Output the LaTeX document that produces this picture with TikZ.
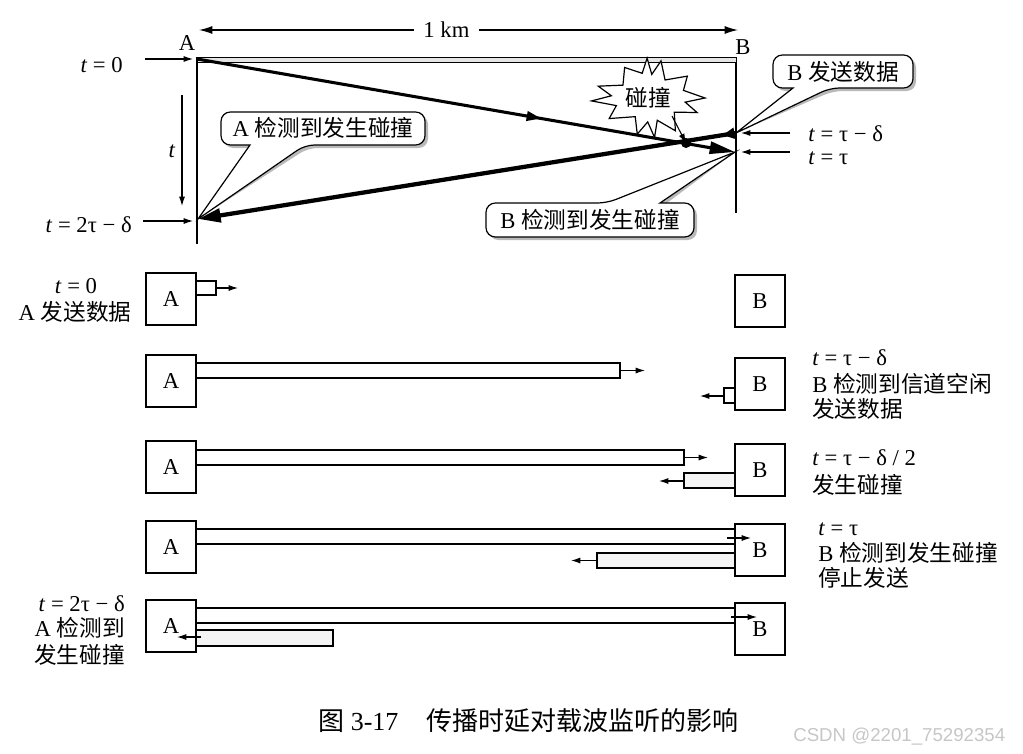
\documentclass[tikz,border=0pt]{standalone}
\usepackage{fontspec}
\setmainfont{Liberation Serif}
\newfontfamily\cjk{Noto Sans CJK SC}
\newfontfamily\wmfont{Liberation Sans}
\usetikzlibrary{arrows.meta,decorations.markings}
\begin{document}
\begin{tikzpicture}[x=0.75pt,y=-0.75pt,
  lbl/.style={font=\fontsize{17}{20}\selectfont, inner sep=0pt},
  captxt/.style={font=\fontsize{19.5}{22}\selectfont, inner sep=0pt},
  sta/.style={draw, line width=1pt, minimum width=37.5pt, minimum height=39pt, inner sep=0pt, fill=white, font=\fontsize{17}{20}\selectfont},
  bar/.style={draw, line width=0.8pt, fill=white},
  gbar/.style={draw, line width=0.8pt, fill=gray!9},
  sarr/.style={-{Latex[length=7pt,width=4.5pt]}, line width=0.8pt},
  ln/.style={line width=0.9pt},
  shade/.style={fill=gray!55},
  callout/.style={draw, line width=0.9pt, fill=white},
]
\useasboundingbox (0,0) rectangle (1023,753);

% ---------------- top diagram ----------------
\coordinate (pA0) at (197,59);
\coordinate (pBt) at (735,152);
\coordinate (pBd) at (736,133);
\coordinate (pA2) at (198,219);
\coordinate (coll) at (686,143);

\draw[ln] (197,57) -- (197,244);
\draw[ln] (736,60) -- (736,213);
\draw[line width=0.7pt, fill=gray!20] (197,57) rectangle (736,62);

\node[lbl, anchor=base] (labA) at (187,50) {A};
\node[lbl, anchor=base] (labB) at (743,54) {B};

% 1 km
\coordinate (kmL) at (199,30);
\coordinate (kmR) at (738,30);
\draw[ln, {Latex[length=10pt,width=6pt]}-{Latex[length=10pt,width=6pt]}] (kmL) -- (kmR)
  node[pos=0.459, fill=white, lbl, inner xsep=7pt, inner ysep=2pt] (km) {1 km};

% time marks left
\node[lbl, anchor=base east] (t0) at (123,72) {\textit{t} = 0};
\coordinate (t0s) at (145,59);
\coordinate (t0e) at (193,59);
\draw[sarr] (t0s) -- (t0e);
\node[lbl, anchor=base east] (t2) at (132,232) {\textit{t} = 2τ − δ};
\coordinate (t2s) at (143,221);
\coordinate (t2e) at (193,221);
\draw[sarr] (t2s) -- (t2e);
\coordinate (tvs) at (182,95);
\coordinate (tve) at (182,206);
\draw[sarr] (tvs) -- (tve);
\node[lbl, anchor=base] (tv) at (172,157) {\textit{t}};

% time marks right
\node[lbl, anchor=base west] (ttd) at (808,141) {\textit{t} = τ − δ};
\node[lbl, anchor=base west] (tt) at (808,164) {\textit{t} = τ};
\coordinate (tds) at (790,133);
\coordinate (tde) at (741,133);
\coordinate (tts) at (790,152);
\coordinate (tte) at (741,152);
\draw[sarr] (tds) -- (tde);
\draw[sarr] (tts) -- (tte);

% signal lines
\draw[line width=2.3pt, -{Triangle[length=19pt,width=9pt]},
  postaction={decorate}, decoration={markings, mark=at position 0.64 with {\arrow{Triangle[length=11pt,width=7pt]}}}]
  (pA0) -- (pBt);
\draw[line width=3.2pt, -{Triangle[length=17pt,width=10pt]},
  postaction={decorate}, decoration={markings, mark=at position 0.025 with {\arrow{Triangle[length=9pt,width=8pt]}}}]
  (pBd) -- (pA2);
\fill (coll) circle (5);

% collision star
\draw[fill=white, line width=0.9pt, shift={(649,98)}]
  (0:56 and 33) -- (12:37 and 20) -- (27:54 and 32) -- (40:33 and 22) -- (55:46 and 40)
  -- (68:22 and 24) -- (80:32 and 40) -- (95:15 and 24) -- (108:38 and 38) -- (122:26 and 22)
  -- (140:52 and 32) -- (155:36 and 18) -- (172:58 and 21) -- (188:38 and 16) -- (205:56 and 28)
  -- (220:34 and 20) -- (238:46 and 36) -- (252:22 and 26) -- (265:22 and 40) -- (280:16 and 24)
  -- (292:32 and 40) -- (305:28 and 22) -- (320:50 and 34) -- (335:38 and 18) -- cycle;
\node[lbl, anchor=base] (pz) at (648,106) {\cjk 碰撞};
\coordinate (pzs) at (672,116);
\draw[sarr] (pzs) -- (coll);

% callout: A detects
\fill[shade, shift={(3,3)}, rounded corners=7pt]
  (221,112) -- (425,112) -- (425,145) -- (305,145) [sharp corners] -- (pA2) -- (250,145) [rounded corners=7pt] -- (221,145) -- cycle;
\draw[callout, rounded corners=7pt]
  (221,112) -- (425,112) -- (425,145) -- (305,145) [sharp corners] -- (pA2) -- (250,145) [rounded corners=7pt] -- (221,145) -- cycle;
\node[lbl, anchor=base] (cA) at (323,136) {A {\cjk 检测到发生碰撞}};

% callout: B sends
\fill[shade, shift={(3,3)}, rounded corners=7pt]
  (773,55) -- (913,55) -- (913,88) -- (830,88) [sharp corners] -- (pBd) -- (793,88) [rounded corners=7pt] -- (773,88) -- cycle;
\draw[callout, rounded corners=7pt]
  (773,55) -- (913,55) -- (913,88) -- (830,88) [sharp corners] -- (pBd) -- (793,88) [rounded corners=7pt] -- (773,88) -- cycle;
\node[lbl, anchor=base] (cB) at (843,80) {B {\cjk 发送数据}};

% callout: B detects
\fill[shade, shift={(3,3)}, rounded corners=7pt]
  (486,203) -- (607,203) [sharp corners] -- (pBt) -- (660,203) [rounded corners=7pt] -- (694,203) -- (694,237) -- (486,237) -- cycle;
\draw[callout, rounded corners=7pt]
  (486,203) -- (607,203) [sharp corners] -- (pBt) -- (660,203) [rounded corners=7pt] -- (694,203) -- (694,237) -- (486,237) -- cycle;
\node[lbl, anchor=base] (cBd) at (590,228) {B {\cjk 检测到发生碰撞}};

% ---------------- bottom rows ----------------
% row 1
\node[sta] (A1) at (171,299) {A};
\node[sta] (B1) at (760,301) {B};
\draw[bar] (196,281) rectangle (216,295);
\draw[sarr] (216,288) -- (238,288);
\node[lbl, anchor=base] (l1a) at (76,293) {\textit{t} = 0};
\node[lbl, anchor=base] (l1b) at (75,320) {A {\cjk 发送数据}};

% row 2
\node[sta] (A2) at (171,381) {A};
\node[sta] (B2) at (760,384) {B};
\draw[bar] (196,363) rectangle (620,378);
\draw[sarr] (620,370.5) -- (645,370.5);
\draw[bar] (724,388) rectangle (735,403);
\draw[sarr] (724,396) -- (700,396);
\node[lbl, anchor=base west] (l2a) at (812,365) {\textit{t} = τ − δ};
\node[lbl, anchor=base west] (l2b) at (812,392) {B {\cjk 检测到信道空闲}};
\node[lbl, anchor=base west] (l2c) at (812,417) {\cjk 发送数据};

% row 3
\node[sta] (A3) at (171,467) {A};
\node[sta] (B3) at (760,470) {B};
\draw[bar] (196,450) rectangle (684,465);
\draw[sarr] (684,457.5) -- (708,457.5);
\draw[gbar] (684,473) rectangle (735,488);
\draw[sarr] (684,481) -- (659,481);
\node[lbl, anchor=base west] (l3a) at (812,465) {\textit{t} = τ − δ / 2};
\node[lbl, anchor=base west] (l3b) at (812,493) {\cjk 发生碰撞};

% row 4
\node[sta] (A4) at (171,547) {A};
\node[sta] (B4) at (760,550) {B};
\draw[bar] (196,529) rectangle (735,544);
\draw[sarr] (727,538) -- (751,538);
\draw[gbar] (597,553) rectangle (735,568);
\draw[sarr] (597,560.5) -- (571,560.5);
\node[lbl, anchor=base west] (l4a) at (818,535) {\textit{t} = τ};
\node[lbl, anchor=base west] (l4b) at (818,561) {B {\cjk 检测到发生碰撞}};
\node[lbl, anchor=base west] (l4c) at (818,586) {\cjk 停止发送};

% row 5
\node[sta] (A5) at (171,626) {A};
\node[sta] (B5) at (760,629) {B};
\draw[bar] (196,608) rectangle (735,623);
\draw[sarr] (731,617) -- (757,617);
\draw[gbar] (196,630) rectangle (333,646);
\draw[sarr] (201,637) -- (177,637);
\node[lbl, anchor=base east] (l5a) at (125,611) {\textit{t} = 2τ − δ};
\node[lbl, anchor=base east] (l5b) at (125,636) {A {\cjk 检测到}};
\node[lbl, anchor=base east] (l5c) at (125,663) {\cjk 发生碰撞};

% caption
\node[captxt, anchor=base west] (capA) at (318,730) {{\cjk 图} 3-17};
\node[captxt, anchor=base west] (capB) at (426,730) {\cjk 传播时延对载波监听的影响};
\node[anchor=base west, inner sep=0pt, text=gray!45, font=\wmfont\fontsize{14}{16}\selectfont] (wm) at (793,741) {CSDN @2201\_75292354};
\end{tikzpicture}
\end{document}
